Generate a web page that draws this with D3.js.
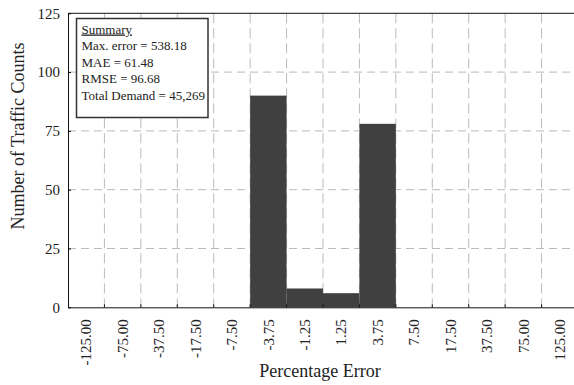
<!DOCTYPE html>
<html>
<head>
<meta charset="utf-8">
<script src="https://cdn.jsdelivr.net/npm/d3@7"></script>
<style>
  body { margin: 0; background: #fff; }
  text { font-family: "Liberation Serif", "Times New Roman", serif; fill: #222; }
</style>
</head>
<body>
<div id="chart"></div>
<script>
// bin labels and counts
var binLabels = ["-125.00","-75.00","-37.50","-17.50","-7.50","-3.75","-1.25","1.25","3.75","7.50","17.50","37.50","75.00","125.00"];
var counts = [0,0,0,0,0,90,8,6,78,0,0,0,0,0];
var yTicks = [0,25,50,75,100,125];
var summaryLines = ["Max. error = 538.18","MAE = 61.48","RMSE = 96.68","Total Demand = 45,269"];

var W = 574, H = 385;
var m = {left: 68, top: 13.3, right: 578, bottom: 307.3};

var svg = d3.select("#chart").append("svg")
	.attr("width", W).attr("height", H)
	.style("display","block");

var x = d3.scaleBand().domain(binLabels).range([m.left, m.right]).padding(0);
var y = d3.scaleLinear().domain([0,125]).range([m.bottom, m.top]);

var g = svg.append("g");

// grid
g.selectAll(".hgrid").data(yTicks.slice(1,5)).enter()
	.append("line")
	.attr("x1", m.left).attr("x2", m.right)
	.attr("y1", function(d){ return y(d); }).attr("y2", function(d){ return y(d); })
	.attr("stroke","#bbb").attr("stroke-width",1).attr("stroke-dasharray","8,5");

g.selectAll(".vgrid").data(binLabels.slice(1)).enter()
	.append("line")
	.attr("x1", function(d){ return x(d); }).attr("x2", function(d){ return x(d); })
	.attr("y1", m.top).attr("y2", m.bottom)
	.attr("stroke","#bbb").attr("stroke-width",1).attr("stroke-dasharray","10,5");

// bars
g.selectAll(".bar").data(counts).enter()
	.append("rect")
	.attr("x", function(d,i){ return x(binLabels[i]); })
	.attr("width", x.bandwidth())
	.attr("y", function(d){ return y(d); })
	.attr("height", function(d){ return m.bottom - y(d); })
	.attr("fill","#404040");

// axes
var yAxis = g.append("g").attr("transform","translate(" + m.left + ",0)")
	.call(d3.axisLeft(y).tickValues(yTicks).tickSizeInner(-3).tickSizeOuter(0).tickPadding(8));
yAxis.select(".domain").attr("stroke","#111");
yAxis.selectAll("text").style("font-size","15px").attr("fill","#222")
	.style("font-family","'Liberation Serif', serif");

var xAxis = g.append("g").attr("transform","translate(0," + m.bottom + ")")
	.call(d3.axisBottom(x).tickSize(0).tickSizeOuter(0));
xAxis.select(".domain").attr("stroke","#111");
xAxis.selectAll(".tick text")
	.attr("transform","rotate(-90)")
	.attr("text-anchor","end")
	.attr("x", -12).attr("y", 0).attr("dy","0.35em")
	.style("font-size","15px").attr("fill","#222")
	.style("font-family","'Liberation Serif', serif");

// small inward ticks at bin edges
g.selectAll(".xtick").data(binLabels.slice(1)).enter()
	.append("line")
	.attr("x1", function(d){ return x(d); }).attr("x2", function(d){ return x(d); })
	.attr("y1", m.bottom).attr("y2", m.bottom - 3)
	.attr("stroke","#111");

g.append("line").attr("x1", m.left).attr("x2", m.right)
	.attr("y1", m.top).attr("y2", m.top).attr("stroke","#111");

// titles
svg.append("text")
	.attr("x", 320).attr("y", 377)
	.attr("text-anchor","middle")
	.style("font-size","18px")
	.text("Percentage Error");

svg.append("text")
	.attr("transform","translate(24,136) rotate(-90)")
	.attr("text-anchor","middle")
	.style("font-size","18px")
	.text("Number of Traffic Counts");

// summary box
var box = svg.append("g").attr("transform","translate(76.5,18.5)");
box.append("rect")
	.attr("width", 131.5).attr("height", 99)
	.attr("fill","#fff").attr("stroke","#333").attr("stroke-width",1.5);
box.append("text")
	.attr("x", 5).attr("y", 15)
	.style("font-size","13px")
	.style("text-decoration","underline")
	.text("Summary");
box.selectAll(".sline").data(summaryLines).enter()
	.append("text")
	.attr("x", 5)
	.attr("y", function(d,i){ return 31.8 + i*16.4; })
	.style("font-size","13px")
	.text(function(d){ return d; });
</script>
</body>
</html>
